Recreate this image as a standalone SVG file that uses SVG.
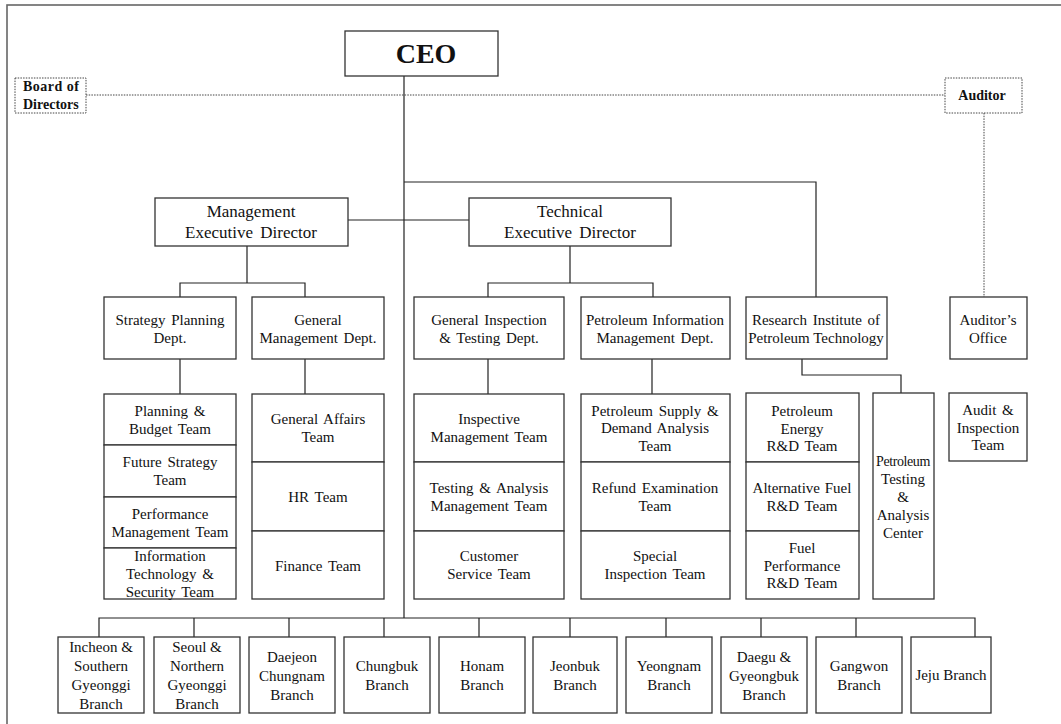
<svg xmlns="http://www.w3.org/2000/svg" width="1061" height="724" viewBox="0 0 1061 724">
<style>
text{font-family:"Liberation Serif","Times New Roman",serif;fill:#111;text-anchor:middle}
.t{font-size:15px;word-spacing:2px}
.h{font-size:17px;word-spacing:3px}
.b{font-size:15px}
.bx{fill:#fff;stroke:#333;stroke-width:1.3}
.dot{fill:#fff;stroke:#444;stroke-width:1;stroke-dasharray:1.5 1.2}
.ln{fill:none;stroke:#222;stroke-width:1.2}
.dl{fill:none;stroke:#444;stroke-width:1;stroke-dasharray:1.5 1.2}
</style>
<rect x="7" y="5" width="1060" height="730" fill="#fff" stroke="#666" stroke-width="1.6"/>
<g id="connectors">
<path class="ln" d="M404 76V618M404 182H816V297M348 220H469M247 246V283M180 297V283H305V297M570 246V283M488 297V283H653V297M180 359V394M305 359V394M488 359V394M652 359V394M802 359V375H901V393"/>
<path class="ln" d="M99 637V618H975V637M194 618V637M289 618V637M384 618V637M479 618V637M570 618V637M666 618V637M761 618V637M856 618V637"/>
<path class="dl" d="M86 95H945M984 113V297"/>
</g>
<g id="ceo"><rect class="bx" x="345" y="31" width="153" height="45" stroke-width="2.2" stroke="#111"/><text x="426" y="63" style="font-size:28px;font-weight:bold">CEO</text></g>
<g id="board"><rect class="dot" x="15" y="78" width="71" height="35"/><text x="23" y="91" style="font-size:14px;font-weight:bold;text-anchor:start" textLength="56" lengthAdjust="spacing">Board of</text><text x="23" y="109" style="font-size:14px;font-weight:bold;text-anchor:start">Directors</text></g>
<g id="auditor"><rect class="dot" x="945" y="78" width="77" height="35"/><text x="982" y="100" style="font-size:14px;font-weight:bold">Auditor</text></g>
<g id="mgmt"><rect class="bx" x="155" y="198" width="193" height="48"/><text class="h" x="251" y="217">Management</text><text class="h" x="251" y="238">Executive Director</text></g>
<g id="tech"><rect class="bx" x="469" y="198" width="202" height="48"/><text class="h" x="570" y="217">Technical</text><text class="h" x="570" y="238">Executive Director</text></g>
<g id="strategy-dept"><rect class="bx" x="104" y="297" width="132" height="62"/><text class="t" x="170" y="325">Strategy Planning</text><text class="t" x="170" y="343">Dept.</text></g>
<g id="genmgmt-dept"><rect class="bx" x="252" y="297" width="132" height="62"/><text class="t" x="318" y="325">General</text><text class="t" x="318" y="343">Management Dept.</text></g>
<g id="inspection-dept"><rect class="bx" x="414" y="297" width="150" height="62"/><text class="t" x="489" y="325">General Inspection</text><text class="t" x="489" y="343">&amp; Testing Dept.</text></g>
<g id="petinfo-dept"><rect class="bx" x="581" y="297" width="149" height="62"/><text class="t" x="655" y="325" style="word-spacing:1px">Petroleum Information</text><text class="t" x="655" y="343">Management Dept.</text></g>
<g id="research"><rect class="bx" x="746" y="297" width="141" height="62"/><text class="t" x="816" y="325">Research Institute of</text><text class="t" x="816" y="343" style="word-spacing:0">Petroleum Technology</text></g>
<g id="auditors-office"><rect class="bx" x="950" y="297" width="77" height="62"/><text class="t" x="988" y="325">Auditor’s</text><text class="t" x="988" y="343">Office</text></g>
<g id="planning-budget"><rect class="bx" x="104" y="394" width="132" height="51"/><text class="t" x="170" y="416">Planning &amp;</text><text class="t" x="170" y="434">Budget Team</text></g>
<g id="future-strategy"><rect class="bx" x="104" y="445" width="132" height="52"/><text class="t" x="170" y="467">Future Strategy</text><text class="t" x="170" y="485">Team</text></g>
<g id="performance"><rect class="bx" x="104" y="497" width="132" height="51"/><text class="t" x="170" y="519">Performance</text><text class="t" x="170" y="537">Management Team</text></g>
<g id="it-security"><rect class="bx" x="104" y="548" width="132" height="51"/><text class="t" x="170" y="561">Information</text><text class="t" x="170" y="579">Technology &amp;</text><text class="t" x="170" y="597">Security Team</text></g>
<g id="general-affairs"><rect class="bx" x="252" y="394" width="132" height="68"/><text class="t" x="318" y="424">General Affairs</text><text class="t" x="318" y="442">Team</text></g>
<g id="hr"><rect class="bx" x="252" y="462" width="132" height="69"/><text class="t" x="318" y="502">HR Team</text></g>
<g id="finance"><rect class="bx" x="252" y="531" width="132" height="68"/><text class="t" x="318" y="571">Finance Team</text></g>
<g id="inspective"><rect class="bx" x="414" y="394" width="150" height="68"/><text class="t" x="489" y="424">Inspective</text><text class="t" x="489" y="442">Management Team</text></g>
<g id="testing-analysis"><rect class="bx" x="414" y="462" width="150" height="69"/><text class="t" x="489" y="493">Testing &amp; Analysis</text><text class="t" x="489" y="511">Management Team</text></g>
<g id="customer"><rect class="bx" x="414" y="531" width="150" height="68"/><text class="t" x="489" y="561">Customer</text><text class="t" x="489" y="579">Service Team</text></g>
<g id="supply-demand"><rect class="bx" x="581" y="394" width="149" height="68"/><text class="t" x="655" y="416">Petroleum Supply &amp;</text><text class="t" x="655" y="433">Demand Analysis</text><text class="t" x="655" y="451">Team</text></g>
<g id="refund"><rect class="bx" x="581" y="462" width="149" height="69"/><text class="t" x="655" y="493">Refund Examination</text><text class="t" x="655" y="511">Team</text></g>
<g id="special"><rect class="bx" x="581" y="531" width="149" height="68"/><text class="t" x="655" y="561">Special</text><text class="t" x="655" y="579">Inspection Team</text></g>
<g id="energy-rd"><rect class="bx" x="746" y="393" width="113" height="69"/><text class="t" x="802" y="416">Petroleum</text><text class="t" x="802" y="434">Energy</text><text class="t" x="802" y="451">R&amp;D Team</text></g>
<g id="altfuel-rd"><rect class="bx" x="746" y="462" width="113" height="69"/><text class="t" x="802" y="493" style="word-spacing:1px">Alternative Fuel</text><text class="t" x="802" y="511">R&amp;D Team</text></g>
<g id="fuelperf-rd"><rect class="bx" x="746" y="531" width="113" height="68"/><text class="t" x="802" y="553">Fuel</text><text class="t" x="802" y="571">Performance</text><text class="t" x="802" y="588">R&amp;D Team</text></g>
<g id="testing-center"><rect class="bx" x="873" y="393" width="61" height="206"/><text x="903" y="466" style="font-size:14px;letter-spacing:-0.4px">Petroleum</text><text class="t" x="903" y="484">Testing</text><text class="t" x="903" y="502">&amp;</text><text class="t" x="903" y="520">Analysis</text><text class="t" x="903" y="538">Center</text></g>
<g id="audit-inspection"><rect class="bx" x="949" y="393" width="78" height="68"/><text class="t" x="988" y="415">Audit &amp;</text><text class="t" x="988" y="433">Inspection</text><text class="t" x="988" y="450">Team</text></g>
<g id="incheon"><rect class="bx" x="58" y="637" width="86" height="76"/><text class="b" x="101" y="652">Incheon &amp;</text><text class="b" x="101" y="671">Southern</text><text class="b" x="101" y="690">Gyeonggi</text><text class="b" x="101" y="709">Branch</text></g>
<g id="seoul"><rect class="bx" x="154" y="637" width="86" height="76"/><text class="b" x="197" y="652">Seoul &amp;</text><text class="b" x="197" y="671">Northern</text><text class="b" x="197" y="690">Gyeonggi</text><text class="b" x="197" y="709">Branch</text></g>
<g id="daejeon"><rect class="bx" x="249" y="637" width="86" height="76"/><text class="b" x="292" y="662">Daejeon</text><text class="b" x="292" y="681">Chungnam</text><text class="b" x="292" y="700">Branch</text></g>
<g id="chungbuk"><rect class="bx" x="344" y="637" width="86" height="76"/><text class="b" x="387" y="671">Chungbuk</text><text class="b" x="387" y="690">Branch</text></g>
<g id="honam"><rect class="bx" x="439" y="637" width="86" height="76"/><text class="b" x="482" y="671">Honam</text><text class="b" x="482" y="690">Branch</text></g>
<g id="jeonbuk"><rect class="bx" x="533" y="637" width="84" height="76"/><text class="b" x="575" y="671">Jeonbuk</text><text class="b" x="575" y="690">Branch</text></g>
<g id="yeongnam"><rect class="bx" x="626" y="637" width="86" height="76"/><text class="b" x="669" y="671">Yeongnam</text><text class="b" x="669" y="690">Branch</text></g>
<g id="daegu"><rect class="bx" x="721" y="637" width="86" height="76"/><text class="b" x="764" y="662">Daegu &amp;</text><text class="b" x="764" y="681">Gyeongbuk</text><text class="b" x="764" y="700">Branch</text></g>
<g id="gangwon"><rect class="bx" x="816" y="637" width="86" height="76"/><text class="b" x="859" y="671">Gangwon</text><text class="b" x="859" y="690">Branch</text></g>
<g id="jeju"><rect class="bx" x="911" y="637" width="80" height="76"/><text class="b" x="951" y="680">Jeju Branch</text></g>
</svg>
